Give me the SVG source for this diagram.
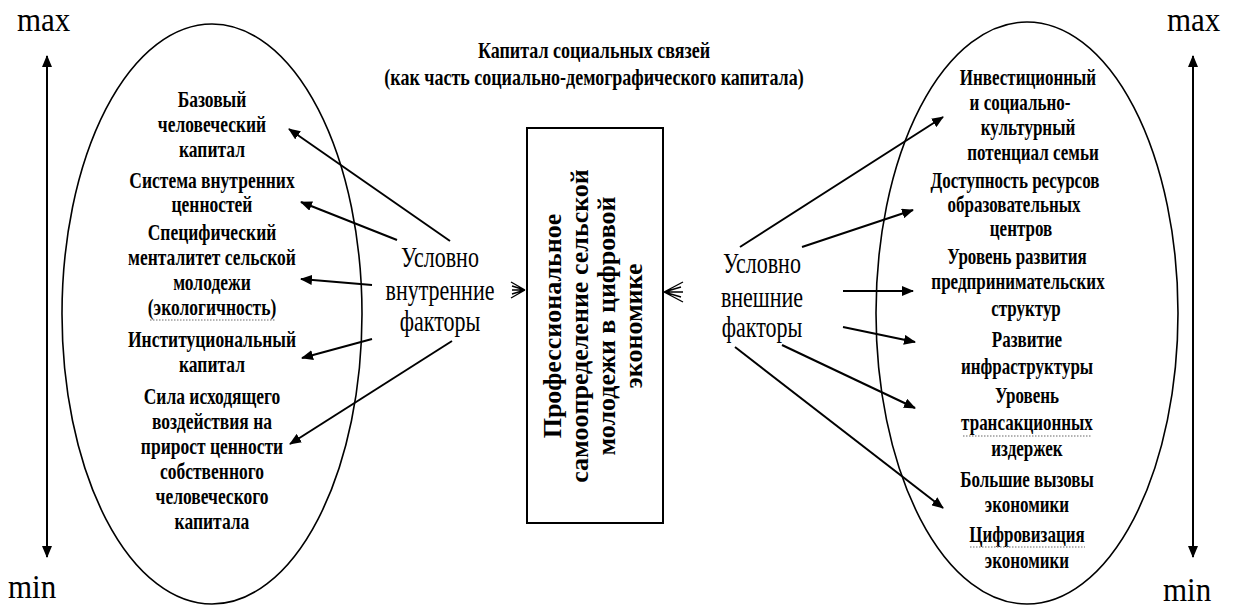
<svg xmlns="http://www.w3.org/2000/svg" width="1235" height="608" viewBox="0 0 1235 608">
<style>
text{font-family:"Liberation Serif","DejaVu Serif","Times New Roman",serif;fill:#000}
.it{font-size:17.5px;font-weight:bold;text-anchor:middle}
.ir{font-size:17px;font-weight:bold;text-anchor:middle}
.tt{font-size:18px;font-weight:bold;text-anchor:middle}
.fc{font-size:22px;text-anchor:middle}
.mm{font-size:31px}
.bx{font-size:26px;font-weight:bold;text-anchor:middle}
.el{fill:none;stroke:#000;stroke-width:1.6}
.cn{stroke:#000;stroke-width:2;fill:none}
.fan{stroke:#000;stroke-width:1.4;fill:none}
.sq{stroke:#9a9a9a;stroke-width:1.4;stroke-dasharray:1.5 1.5;fill:none}
</style>
<defs>
<marker id="ah" viewBox="0 0 12 10" refX="11" refY="5" markerWidth="12" markerHeight="10" markerUnits="userSpaceOnUse" orient="auto-start-reverse"><path d="M0,0 L12,5 L0,10 z" fill="#000"/></marker>
</defs>
<rect width="1235" height="608" fill="#fff"/>

<g id="scale-left">
<g transform="scale(1,1.08)"><text class="mm" x="17" y="28.3">max</text><text class="mm" x="8" y="553.7">min</text></g>
</g>
<g id="scale-right">
<g transform="scale(1,1.08)"><text class="mm" x="1167" y="28.3">max</text><text class="mm" x="1163" y="556.5">min</text></g>
</g>

<g id="title">
<g transform="scale(1,1.3)"><text class="tt"><tspan x="594" y="44.6">Капитал социальных связей</tspan><tspan x="594" y="65.4">(как часть социально-демографического капитала)</tspan></text></g>
</g>

<g id="left-ellipse"><ellipse class="el" cx="212" cy="314" rx="150" ry="290"/></g>
<g id="right-ellipse"><ellipse class="el" cx="1027" cy="313" rx="151" ry="291"/></g>

<g id="internal-1" transform="scale(1,1.3)"><text class="it"><tspan x="212" y="82.3">Базовый</tspan><tspan x="212" y="101.5">человеческий</tspan><tspan x="212" y="120.8">капитал</tspan></text></g>
<g id="internal-2" transform="scale(1,1.3)"><text class="it"><tspan x="212" y="144.6">Система внутренних</tspan><tspan x="212" y="163.1">ценностей</tspan></text></g>
<g id="internal-3" transform="scale(1,1.3)"><text class="it"><tspan x="212" y="184.6">Специфический</tspan><tspan x="212" y="203.8">менталитет сельской</tspan><tspan x="212" y="223.1">молодежи</tspan><tspan x="212" y="242.3">(экологичность)</tspan></text></g>
<g id="internal-4" transform="scale(1,1.3)"><text class="it"><tspan x="212" y="266.9">Институциональный</tspan><tspan x="212" y="286.2">капитал</tspan></text></g>
<g id="internal-5" transform="scale(1,1.3)"><text class="it"><tspan x="212" y="310.8">Сила исходящего</tspan><tspan x="212" y="330">воздействия на</tspan><tspan x="212" y="349.2">прирост ценности</tspan><tspan x="212" y="368.5">собственного</tspan><tspan x="212" y="387.7">человеческого</tspan><tspan x="212" y="406.9">капитала</tspan></text></g>

<g id="external-1" transform="scale(1,1.3)"><text class="ir"><tspan x="1028" y="65.4">Инвестиционный</tspan><tspan x="1020" y="84.6">и социально-</tspan><tspan x="1028" y="103.8">культурный</tspan><tspan x="1033" y="123.1">потенциал семьи</tspan></text></g>
<g id="external-2" transform="scale(1,1.3)"><text class="ir"><tspan x="1015" y="144.6">Доступность ресурсов</tspan><tspan x="1014" y="163.1">образовательных</tspan><tspan x="1021" y="181.5">центров</tspan></text></g>
<g id="external-3" transform="scale(1,1.3)"><text class="ir"><tspan x="1017" y="203.1">Уровень развития</tspan><tspan x="1018" y="222.3">предпринимательских</tspan><tspan x="1026" y="243.1">структур</tspan></text></g>
<g id="external-4" transform="scale(1,1.3)"><text class="ir"><tspan x="1027" y="266.9">Развитие</tspan><tspan x="1027" y="287.7">инфраструктуры</tspan></text></g>
<g id="external-5" transform="scale(1,1.3)"><text class="ir"><tspan x="1027" y="310">Уровень</tspan><tspan x="1027" y="330.8">трансакционных</tspan><tspan x="1027" y="350.8">издержек</tspan></text></g>
<g id="external-6" transform="scale(1,1.3)"><text class="ir"><tspan x="1027" y="374.6">Большие вызовы</tspan><tspan x="1027" y="393.8">экономики</tspan></text></g>
<g id="external-7" transform="scale(1,1.3)"><text class="ir"><tspan x="1027" y="416.9">Цифровизация</tspan><tspan x="1027" y="436.9">экономики</tspan></text></g>

<g id="spell-marks">
<path class="sq" d="M150,320 L276,320"/>
<path class="sq" d="M963,436 L1092,436"/>
<path class="sq" d="M970,547 L1085,547"/>
</g>

<g id="internal-factors" transform="scale(1,1.3)"><text class="fc"><tspan x="440" y="205.4">Условно</tspan><tspan x="440" y="230.8">внутренние</tspan><tspan x="440" y="254.6">факторы</tspan></text></g>
<g id="external-factors" transform="scale(1,1.3)"><text class="fc"><tspan x="762" y="210">Условно</tspan><tspan x="762" y="236.2">внешние</tspan><tspan x="762" y="259.2">факторы</tspan></text></g>

<g id="center-box">
<rect x="527" y="128" width="136" height="395" fill="none" stroke="#000" stroke-width="2"/>
<text class="bx" transform="translate(561,326) rotate(-90)" x="0" y="0">Профессиональное</text>
<text class="bx" transform="translate(588,326) rotate(-90)" x="0" y="0">самоопределение сельской</text>
<text class="bx" transform="translate(615,326) rotate(-90)" x="0" y="0">молодежи в цифровой</text>
<text class="bx" transform="translate(642,326) rotate(-90)" x="0" y="0">экономике</text>
</g>

<g id="connectors">
<line class="cn" x1="47" y1="557" x2="47" y2="56" marker-start="url(#ah)" marker-end="url(#ah)"/>
<line class="cn" x1="1193" y1="557" x2="1193" y2="56" marker-start="url(#ah)" marker-end="url(#ah)"/>
<line class="cn" x1="450" y1="241" x2="289" y2="129" marker-end="url(#ah)"/>
<line class="cn" x1="397" y1="240" x2="301" y2="202" marker-end="url(#ah)"/>
<line class="cn" x1="372" y1="285" x2="301" y2="279" marker-end="url(#ah)"/>
<line class="cn" x1="372" y1="339" x2="302" y2="358" marker-end="url(#ah)"/>
<line class="cn" x1="452" y1="341" x2="290" y2="444" marker-end="url(#ah)"/>
<line class="cn" x1="740" y1="247" x2="943" y2="117" marker-end="url(#ah)"/>
<line class="cn" x1="802" y1="247" x2="913" y2="210" marker-end="url(#ah)"/>
<line class="cn" x1="843" y1="291" x2="913" y2="291" marker-end="url(#ah)"/>
<line class="cn" x1="843" y1="327" x2="915" y2="342" marker-end="url(#ah)"/>
<line class="cn" x1="782" y1="345" x2="915" y2="408" marker-end="url(#ah)"/>
<line class="cn" x1="735" y1="347" x2="943" y2="508" marker-end="url(#ah)"/>
<path class="fan" d="M511,282 L525,290 M512,286 L525,290 M512,290 L525,290 M512,294 L525,290 M511,298 L525,290"/>
<path class="fan" d="M683,282 L664,292 M681,287 L664,292 M683,292 L664,292 M681,297 L664,292 M683,302 L664,292"/>
</g>
</svg>
